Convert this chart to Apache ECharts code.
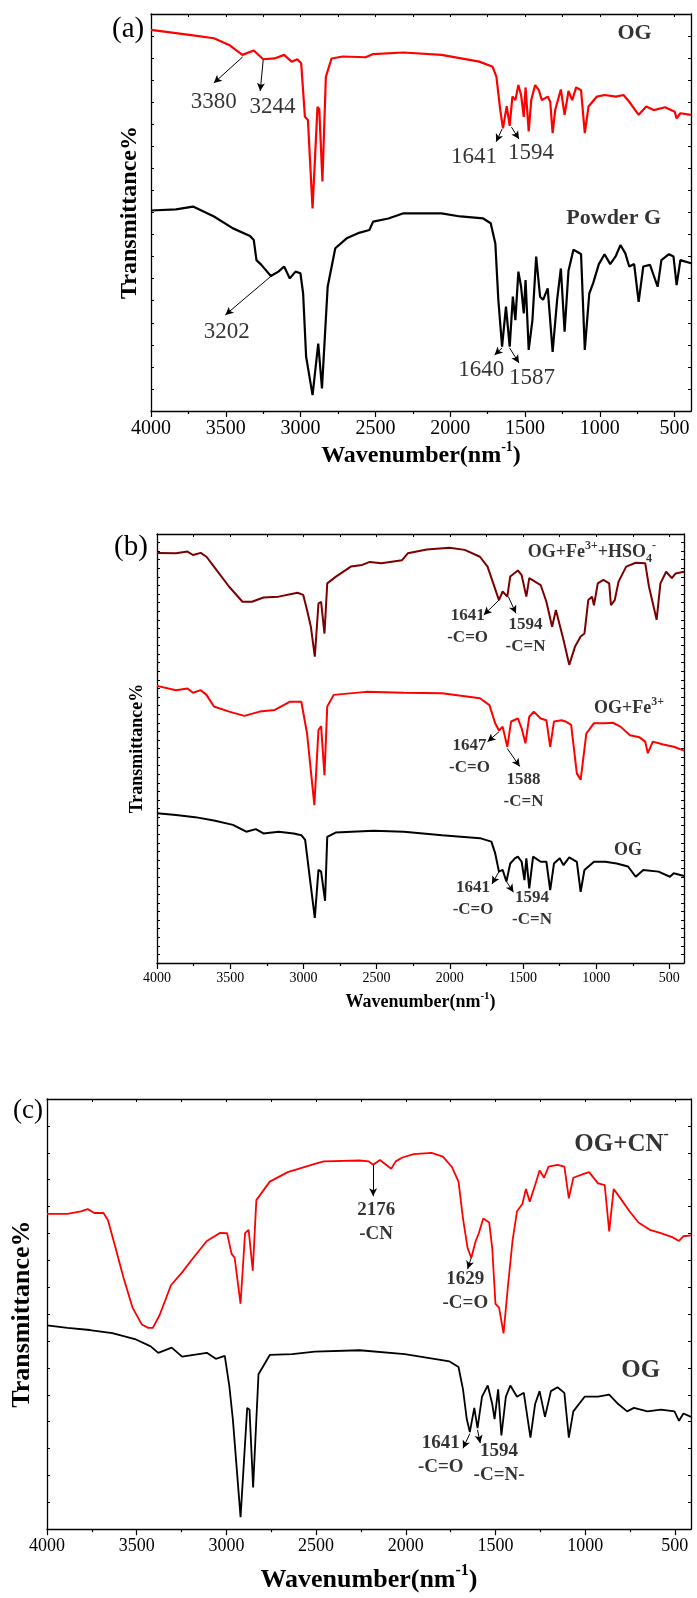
<!DOCTYPE html>
<html>
<head>
<meta charset="utf-8">
<script src="https://cdn.jsdelivr.net/npm/echarts@6/dist/echarts.min.js"></script>
<style>
html, body { margin: 0; padding: 0; background: #fff; }
#main { width: 697px; height: 1598px; }
</style>
</head>
<body>
<div id="main"></div>
<script>
// tick labels (wavenumber)
const majorTicks = [4000, 3500, 3000, 2500, 2000, 1500, 1000, 500];
const minorTicks = [3750, 3250, 2750, 2250, 1750, 1250, 750];

// ---- panel (a): [wavenumber, transmittance (a.u.)]
const aOG = [[4000,96.0],[3833,95.2],[3731,94.7],[3579,93.9],[3478,92.2],[3389,89.7],[3313,90.8],[3250,88.6],[3174,88.8],[3110,89.7],[3060,88.0],[3022,88.6],[2996,87.6],[2971,74.1],[2951,73.3],[2920,51.0],[2887,76.6],[2875,76.0],[2854,57.8],[2831,84.2],[2793,88.8],[2717,89.3],[2565,89.1],[2515,89.9],[2312,90.3],[2058,89.7],[1805,88.0],[1716,86.7],[1691,84.2],[1665,75.8],[1647,71.2],[1622,76.8],[1602,71.8],[1584,79.2],[1564,78.3],[1544,82.1],[1526,79.6],[1508,74.1],[1496,81.5],[1475,70.4],[1458,78.3],[1432,82.1],[1407,80.8],[1387,78.3],[1348,79.2],[1331,77.9],[1315,70.0],[1298,75.8],[1260,81.0],[1235,74.6],[1209,80.6],[1184,78.3],[1158,81.5],[1125,80.8],[1100,70.0],[1075,76.7],[1019,79.2],[968,79.6],[892,79.2],[841,79.6],[803,77.9],[740,74.6],[689,76.7],[639,75.8],[563,76.5],[499,75.4],[486,73.7],[461,75.0],[390,74.6]];
const aPowderG = [[4000,50.5],[3833,50.8],[3719,51.5],[3579,49.0],[3452,46.0],[3338,44.1],[3313,43.1],[3295,38.0],[3262,36.8],[3199,34.0],[3148,35.1],[3110,36.4],[3072,33.4],[3034,35.1],[3001,34.7],[2983,29.6],[2963,13.7],[2920,4.0],[2882,17.0],[2857,5.7],[2819,31.3],[2768,41.0],[2692,43.5],[2616,44.8],[2540,45.6],[2515,47.7],[2413,48.5],[2312,49.8],[2058,49.8],[1932,49.0],[1779,48.5],[1729,47.3],[1698,42.2],[1678,28.0],[1653,16.2],[1627,26.3],[1602,16.2],[1581,28.8],[1564,22.9],[1544,35.1],[1526,31.3],[1508,24.6],[1496,33.0],[1475,15.4],[1450,22.9],[1425,38.9],[1399,28.8],[1379,28.0],[1348,30.9],[1315,14.9],[1285,28.0],[1260,35.9],[1235,20.0],[1209,35.3],[1176,40.6],[1146,40.0],[1125,39.5],[1100,15.4],[1070,29.6],[1044,32.2],[1006,37.0],[968,39.5],[930,37.0],[892,39.1],[862,41.8],[829,39.7],[803,36.4],[770,37.0],[740,27.5],[709,36.4],[664,36.8],[613,31.3],[588,38.0],[537,39.5],[507,38.9],[486,31.7],[461,38.0],[390,37.2]];
const aNotes = [[3580,77.8,'3380'],[3187,76.6,'3244'],[1840,64.0,'1641'],[1460,65.0,'1594'],[3493,19.9,'3202'],[1793,10.3,'1640'],[1453,8.3,'1587']];
const aArrows = [[[3387,89.2],[3580,82.6]],[[3250,88.4],[3270,80.6]],[[1653,71.0],[1693,67.8]],[[1590,71.5],[1540,68.5]],[[3187,34.3],[3503,24.2]],[[1653,15.9],[1703,14.1]],[[1603,15.9],[1540,12.1]]];
const aNames = [[767,95.2,'OG'],[907,48.6,'Powder G']];

// ---- panel (b)
const bHSO4 = [[4000,95.6],[3870,95.5],[3792,95.9],[3754,95.1],[3701,95.6],[3662,94.7],[3611,92.4],[3507,87.7],[3416,84.2],[3351,84.2],[3273,85.2],[3169,85.4],[3040,86.3],[3001,85.8],[2975,82.3],[2949,78.4],[2922,71.4],[2897,83.8],[2879,84.2],[2856,76.8],[2837,88.5],[2780,90.0],[2676,92.4],[2598,92.8],[2546,93.5],[2468,93.2],[2326,93.9],[2287,95.5],[2157,96.4],[2002,96.8],[1898,96.3],[1794,94.7],[1742,92.4],[1703,88.5],[1664,84.6],[1639,86.6],[1607,85.4],[1587,90.1],[1535,91.5],[1509,90.4],[1477,85.4],[1457,89.7],[1418,88.9],[1379,88.1],[1340,84.2],[1301,78.4],[1275,82.3],[1223,75.3],[1184,69.5],[1145,73.7],[1106,76.1],[1080,76.8],[1054,84.6],[1028,85.4],[1015,83.4],[989,88.5],[951,89.3],[911,88.5],[899,83.4],[873,84.6],[847,88.9],[795,92.4],[730,93.3],[665,93.2],[639,87.7],[587,80.0],[561,88.5],[522,91.2],[483,89.7],[457,90.8],[400,91.2]];
const bFe = [[4000,64.6],[3870,63.6],[3792,64.0],[3754,63.0],[3701,63.6],[3662,62.5],[3611,59.8],[3507,58.6],[3403,57.6],[3299,58.6],[3195,59.0],[3091,60.9],[3014,60.9],[2975,53.5],[2925,36.8],[2897,54.3],[2879,55.2],[2856,43.8],[2837,59.8],[2793,62.5],[2572,63.2],[2313,63.0],[2053,62.9],[1794,61.7],[1729,60.1],[1690,55.9],[1664,54.2],[1639,55.1],[1607,50.4],[1581,56.3],[1535,57.0],[1509,54.7],[1483,51.2],[1457,57.4],[1426,58.6],[1379,57.0],[1340,56.6],[1314,50.4],[1288,56.3],[1236,56.6],[1210,56.3],[1171,55.5],[1132,44.2],[1106,42.7],[1067,53.5],[1015,55.9],[938,55.9],[886,56.0],[834,55.1],[769,53.1],[704,52.6],[665,51.6],[647,48.9],[613,51.6],[548,51.0],[470,50.4],[400,49.5]];
const bOG = [[4000,34.9],[3870,34.5],[3740,34.0],[3611,33.2],[3481,32.2],[3390,30.6],[3325,31.2],[3273,30.2],[3169,30.6],[3066,30.2],[3014,29.8],[2988,28.7],[2957,20.1],[2922,10.5],[2897,21.7],[2879,21.3],[2852,14.5],[2837,29.4],[2780,30.4],[2520,30.8],[2313,30.6],[2053,29.8],[1794,29.1],[1716,28.3],[1690,25.6],[1664,21.3],[1639,21.7],[1613,19.0],[1587,23.2],[1555,24.4],[1535,24.8],[1509,23.6],[1490,19.3],[1477,24.4],[1457,17.4],[1431,24.8],[1379,23.6],[1340,23.6],[1314,17.0],[1288,23.2],[1249,24.4],[1223,22.8],[1184,24.6],[1132,23.6],[1106,16.6],[1080,21.7],[1015,23.6],[938,23.6],[860,23.2],[782,22.5],[730,20.1],[678,21.7],[574,21.3],[496,20.1],[470,20.9],[400,20.3]];
const bNotes = [[1878,78.3,'1641\n-C=O'],[1483,76.4,'1594\n-C=N'],[1865,48.1,'1647\n-C=O'],[1496,40.2,'1588\n-C=N'],[1841,15.0,'1641\n-C=O'],[1438,12.6,'1594\n-C=N']];
const bArrows = [[[1664,84.6],[1768,81.1]],[[1600,85.4],[1548,81.5]],[[1664,53.9],[1742,51.6]],[[1607,50.0],[1522,45.8]],[[1664,21.3],[1712,18.4]],[[1613,19.0],[1565,16.5]]];
const bNames = [[1029,95.7,'OG+Fe{sup|3+}+HSO{sub|4}{sup|-}'],[776,59.4,'OG+Fe{sup|3+}'],[783,26.3,'OG']];

// ---- panel (c)
const cCN = [[4000,73.3],[3886,73.3],[3811,73.9],[3773,74.4],[3736,73.5],[3685,73.5],[3660,71.8],[3623,66.2],[3573,58.4],[3523,51.5],[3472,47.6],[3435,46.8],[3410,46.8],[3372,49.8],[3309,56.7],[3247,59.7],[3184,63.1],[3109,67.0],[3034,68.9],[2996,68.8],[2971,64.0],[2954,63.1],[2921,52.4],[2896,68.8],[2876,69.6],[2853,60.1],[2833,76.5],[2758,80.8],[2658,83.0],[2507,84.9],[2457,85.5],[2257,85.7],[2207,85.5],[2182,84.7],[2144,85.8],[2081,83.8],[2056,85.5],[2019,86.4],[1956,87.2],[1856,87.5],[1793,86.6],[1743,84.2],[1706,80.8],[1681,72.2],[1655,65.3],[1635,63.1],[1610,67.0],[1593,68.8],[1568,72.2],[1535,71.3],[1518,65.3],[1500,52.4],[1480,51.5],[1455,45.5],[1430,56.7],[1405,67.0],[1380,73.9],[1350,75.6],[1330,79.1],[1309,76.1],[1279,80.0],[1254,83.4],[1229,81.7],[1204,84.3],[1154,84.7],[1116,84.3],[1091,76.9],[1066,81.7],[1016,82.5],[978,83.0],[928,80.4],[891,80.0],[866,69.2],[841,79.1],[803,76.9],[753,73.9],[703,71.3],[640,69.6],[578,68.8],[515,67.9],[477,67.0],[452,68.1],[410,68.3]];
const cOG = [[4000,47.4],[3886,46.8],[3761,46.3],[3636,45.6],[3510,44.2],[3422,42.5],[3380,41.0],[3305,42.2],[3247,40.1],[3109,41.0],[3059,39.6],[3009,40.3],[2984,33.4],[2964,25.6],[2921,2.8],[2884,28.2],[2871,27.8],[2851,9.7],[2821,36.0],[2758,40.5],[2633,40.7],[2507,41.3],[2257,41.6],[2006,40.7],[1756,39.0],[1706,37.7],[1681,32.5],[1660,25.6],[1643,22.6],[1618,28.2],[1600,23.5],[1575,30.8],[1543,33.4],[1518,29.1],[1505,25.6],[1485,32.5],[1467,21.8],[1442,30.8],[1417,33.4],[1380,30.8],[1342,31.7],[1305,21.3],[1279,29.1],[1254,32.1],[1224,26.1],[1191,32.1],[1154,33.0],[1116,31.7],[1091,21.3],[1066,27.4],[1003,30.8],[928,30.8],[866,31.3],[816,29.1],[766,27.4],[728,28.2],[653,27.4],[578,27.8],[502,27.4],[477,25.2],[452,26.9],[410,26.1]];
const cNotes = [[2165,71.3,'2176\n-CN'],[1668,55.3,'1629\n-C=O'],[1805,17.3,'1641\n-C=O'],[1480,15.4,'1594\n-C=N-']];
const cArrows = [[[2182,84.7],[2182,77.4]],[[1635,63.1],[1655,60.5]],[[1643,22.2],[1681,18.8]],[[1600,23.1],[1585,20.0]]];
const cNames = [[797,89.4,'OG+CN{sup|-}'],[690,36.8,'OG']];

const serif = '"Liberation Serif", "Times New Roman", serif';

const panels = [
  { grid: { left: 151, top: 14, width: 540, height: 397 }, xMin: 390, yStep: 100 / 18,
    tickSize: 20, nameSize: 24, xGap: 22, yGap: 9, tag: '(a)', tagPos: [112, 15, 29],
    lw: 2.2, noteSize: 23, noteBold: 'normal', noteLH: 24, nameFont: 22,
    series: [[aOG, '#ff0000'], [aPowderG, '#000000']],
    notes: aNotes, arrows: aArrows, names: aNames },
  { grid: { left: 157, top: 534, width: 527, height: 429 }, xMin: 400, yStep: 2,
    tickSize: 14, nameSize: 18, xGap: 28, yGap: 11, tag: '(b)', tagPos: [114, 533, 29],
    lw: 2, noteSize: 17, noteBold: 'bold', noteLH: 22, nameFont: 18,
    series: [[bHSO4, '#7b0000'], [bFe, '#ff0000'], [bOG, '#000000']],
    notes: bNotes, arrows: bArrows, names: bNames },
  { grid: { left: 47, top: 1099, width: 644, height: 435 }, xMin: 410, yStep: 6.25,
    tickSize: 18, nameSize: 26, xGap: 34, yGap: 12, tag: '(c)', tagPos: [13, 1097, 27],
    lw: 1.8, noteSize: 19, noteBold: 'bold', noteLH: 24, nameFont: 25,
    series: [[cCN, '#ff0000'], [cOG, '#000000']],
    notes: cNotes, arrows: cArrows, names: cNames }
];

const grids = [], xAxes = [], yAxes = [], series = [], titles = [];

panels.forEach((p, i) => {
  grids.push(Object.assign({ containLabel: false }, p.grid));
  const base = { type: 'value', gridIndex: i, inverse: true, min: p.xMin, max: 4000,
    splitLine: { show: false } };
  const supStyle = { fontFamily: serif, fontWeight: 'bold', fontSize: Math.round(p.nameSize * 0.6), verticalAlign: 'top' };
  xAxes.push(Object.assign({}, base, {
    position: 'bottom',
    axisLine: { onZero: false, lineStyle: { color: '#000', width: 1.3 } },
    axisTick: { inside: false, length: 6, customValues: majorTicks, lineStyle: { color: '#000', width: 1.2 } },
    axisLabel: { customValues: majorTicks, formatter: v => String(v), fontFamily: serif,
      fontSize: p.tickSize, color: '#000', margin: 8 },
    name: 'Wavenumber(nm{sup|-1})', nameLocation: 'middle', nameGap: p.xGap,
    nameTextStyle: { fontFamily: serif, fontWeight: 'bold', fontSize: p.nameSize, color: '#000',
      lineHeight: p.nameSize * 1.3, rich: { sup: supStyle } }
  }));
  xAxes.push(Object.assign({}, base, {
    position: 'bottom',
    axisLine: { show: false, onZero: false },
    axisTick: { inside: false, length: 3, customValues: minorTicks, lineStyle: { color: '#000', width: 1.2 } },
    axisLabel: { show: false }
  }));
  xAxes.push(Object.assign({}, base, {
    position: 'top',
    axisLine: { onZero: false, lineStyle: { color: '#000', width: 1.3 } },
    axisTick: { inside: true, length: 3, customValues: majorTicks.concat(minorTicks), lineStyle: { color: '#000' } },
    axisLabel: { show: false }
  }));
  const yBase = { type: 'value', gridIndex: i, min: 0, max: 100, interval: p.yStep,
    splitLine: { show: false }, axisLabel: { show: false },
    axisLine: { onZero: false, lineStyle: { color: '#000', width: 1.3 } },
    axisTick: { inside: true, length: 3, lineStyle: { color: '#000' } } };
  yAxes.push(Object.assign({}, yBase, {
    position: 'left',
    name: 'Transmittance%', nameLocation: 'middle', nameGap: p.yGap,
    nameTextStyle: { fontFamily: serif, fontWeight: 'bold', fontSize: p.nameSize, color: '#000' }
  }));
  yAxes.push(Object.assign({}, yBase, { position: 'right' }));

  titles.push({ text: p.tag, left: p.tagPos[0], top: p.tagPos[1], padding: 0,
    textStyle: { fontFamily: serif, fontWeight: 'normal', fontSize: p.tagPos[2], color: '#000' } });

  const xi = i * 3, yi = i * 2;
  p.series.forEach(([data, color], k) => {
    const s = { type: 'line', xAxisIndex: xi, yAxisIndex: yi, data: data, showSymbol: false,
      symbol: 'none', lineStyle: { color: color, width: p.lw }, itemStyle: { color: color } };
    if (k === 0) {
      s.markLine = { silent: true, symbol: ['none', 'arrow'], symbolSize: [6, 8],
        lineStyle: { color: '#000', width: 1, type: 'solid' }, label: { show: false },
        data: p.arrows.map(a => [{ coord: a[0] }, { coord: a[1] }]) };
    }
    series.push(s);
  });

  // peak notes
  series.push({ type: 'scatter', xAxisIndex: xi, yAxisIndex: yi, symbolSize: 0, silent: true,
    data: p.notes.map(n => ({ value: [n[0], n[1]], name: n[2] })),
    label: { show: true, position: 'inside', formatter: '{b}', color: '#000', fontFamily: serif,
      fontWeight: p.noteBold, fontSize: p.noteSize, lineHeight: p.noteLH } });

  // curve names
  const sub = { fontFamily: serif, fontWeight: 'bold', fontSize: Math.round(p.nameFont * 0.65) };
  series.push({ type: 'scatter', xAxisIndex: xi, yAxisIndex: yi, symbolSize: 0, silent: true,
    data: p.names.map(n => ({ value: [n[0], n[1]], name: n[2] })),
    label: { show: true, position: 'inside', formatter: '{b}', color: '#000', fontFamily: serif,
      fontWeight: 'bold', fontSize: p.nameFont, lineHeight: p.nameFont * 1.4,
      rich: { sup: Object.assign({ verticalAlign: 'top' }, sub), sub: Object.assign({ verticalAlign: 'bottom' }, sub) } } });
});

const myChart = echarts.init(document.getElementById('main'));
myChart.setOption({
  animation: false,
  backgroundColor: '#fff',
  title: titles,
  grid: grids,
  xAxis: xAxes,
  yAxis: yAxes,
  series: series
});
</script>
</body>
</html>
